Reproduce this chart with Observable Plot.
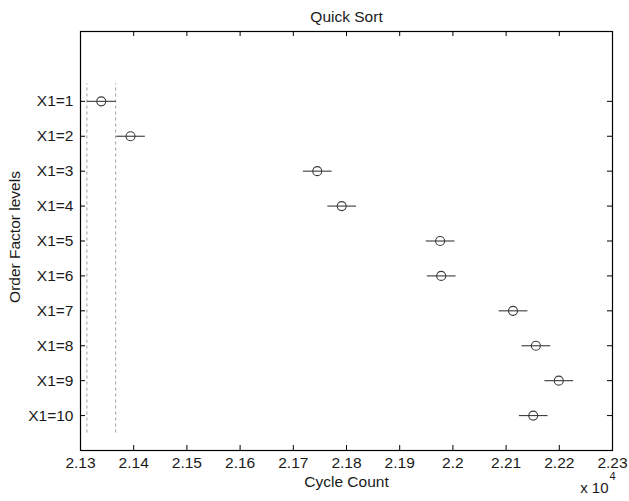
<!DOCTYPE html>
<html>
<head>
<meta charset="utf-8">
<script src="https://cdn.jsdelivr.net/npm/d3@7"></script>
<script src="https://cdn.jsdelivr.net/npm/@observablehq/plot@0.6"></script>
<style>
  html, body { margin: 0; padding: 0; background: #fff; }
  svg { display: block; }
</style>
</head>
<body>
<div id="chart"></div>
<script>
// Data (Cycle Count, group means and CI half-width)
const groups = ["X1=1","X1=2","X1=3","X1=4","X1=5","X1=6","X1=7","X1=8","X1=9","X1=10"];
const means = [21339, 21394, 21745, 21791, 21976, 21978, 22113, 22156, 22199, 22151];
const halfWidth = 27;
const xTicks = [21300, 21400, 21500, 21600, 21700, 21800, 21900, 22000, 22100, 22200, 22300];
const yTicks = [1, 2, 3, 4, 5, 6, 7, 8, 9, 10];
const title = "Quick Sort";
const xLabel = "Cycle Count";
const yLabel = "Order Factor levels";

const n = groups.length;
const rows = groups.map((g, i) => ({
  group: g,
  pos: n - i,            // group 1 at top
  mean: means[i],
  lo: means[i] - halfWidth,
  hi: means[i] + halfWidth
}));
const selected = rows[0];

const font = "'Liberation Sans', Arial, Helvetica, sans-serif";
const W = 629, H = 501, mL = 80, mR = 17, mT = 31, mB = 51;
const innerW = W - mL - mR, innerH = H - mT - mB;
const tickLen = 5;
const textColor = "#1a1a1a";

const chart = Plot.plot({
  width: W,
  height: H,
  marginLeft: mL,
  marginRight: mR,
  marginTop: mT,
  marginBottom: mB,
  style: { fontFamily: font, fontSize: "15px", color: textColor, background: "#fff" },
  x: { domain: [xTicks[0], xTicks[xTicks.length - 1]] },
  y: { domain: [0, n + 2] },
  marks: [
    // dashed reference lines at the selected group's interval ends
    Plot.ruleX([selected.lo, selected.hi], {
      y1: 0.5, y2: n + 0.5,
      stroke: "#a0a0a0", strokeWidth: 1, strokeDasharray: "3,3"
    }),
    // confidence intervals
    Plot.link(rows, {
      x1: "lo", x2: "hi", y1: "pos", y2: "pos",
      stroke: "#3a3a3a", strokeWidth: 1.1
    }),
    // means
    Plot.dot(rows, {
      x: "mean", y: "pos", r: 4.5,
      stroke: "#3a3a3a", strokeWidth: 1.1, fill: "none"
    }),
    // inward ticks (bottom, top, left, right)
    Plot.tickX(xTicks, { x: d => d, insetTop: innerH - tickLen, stroke: "#000" }),
    Plot.tickX(xTicks, { x: d => d, insetBottom: innerH - tickLen, stroke: "#000" }),
    Plot.tickY(yTicks, { y: d => d, insetRight: innerW - tickLen, stroke: "#000" }),
    Plot.tickY(yTicks, { y: d => d, insetLeft: innerW - tickLen, stroke: "#000" }),
    // axis labels
    Plot.axisX({
      ticks: xTicks, tickSize: 0, tickPadding: 6, label: null,
      tickFormat: d => String(+(d / 1e4).toFixed(2)), fontSize: 15.5
    }),
    Plot.axisY({
      anchor: "left", ticks: yTicks, tickSize: 0, tickPadding: 7, label: null,
      tickFormat: d => groups[n - d], fontSize: 15.5
    }),
    Plot.frame({ stroke: "#000", strokeWidth: 1.2 }),
    // titles
    Plot.text([title], { frameAnchor: "top", lineAnchor: "middle", dy: -14.5, fontSize: 15.5, fill: textColor }),
    Plot.text([xLabel], { frameAnchor: "bottom", lineAnchor: "middle", dy: 32, fontSize: 15.5, fill: textColor }),
    Plot.text([yLabel], { frameAnchor: "left", lineAnchor: "middle", textAnchor: "middle", dx: -65, dy: -4, rotate: -90, fontSize: 15.5, fill: textColor }),
    Plot.text(["x 10"], { frameAnchor: "bottom-right", lineAnchor: "middle", dx: -4, dy: 38, textAnchor: "end", fontSize: 15, fill: textColor }),
    Plot.text(["4"], { frameAnchor: "bottom-right", lineAnchor: "middle", dx: -3, dy: 26, textAnchor: "start", fontSize: 11, fill: textColor })
  ]
});
document.getElementById("chart").appendChild(chart);
</script>
</body>
</html>
